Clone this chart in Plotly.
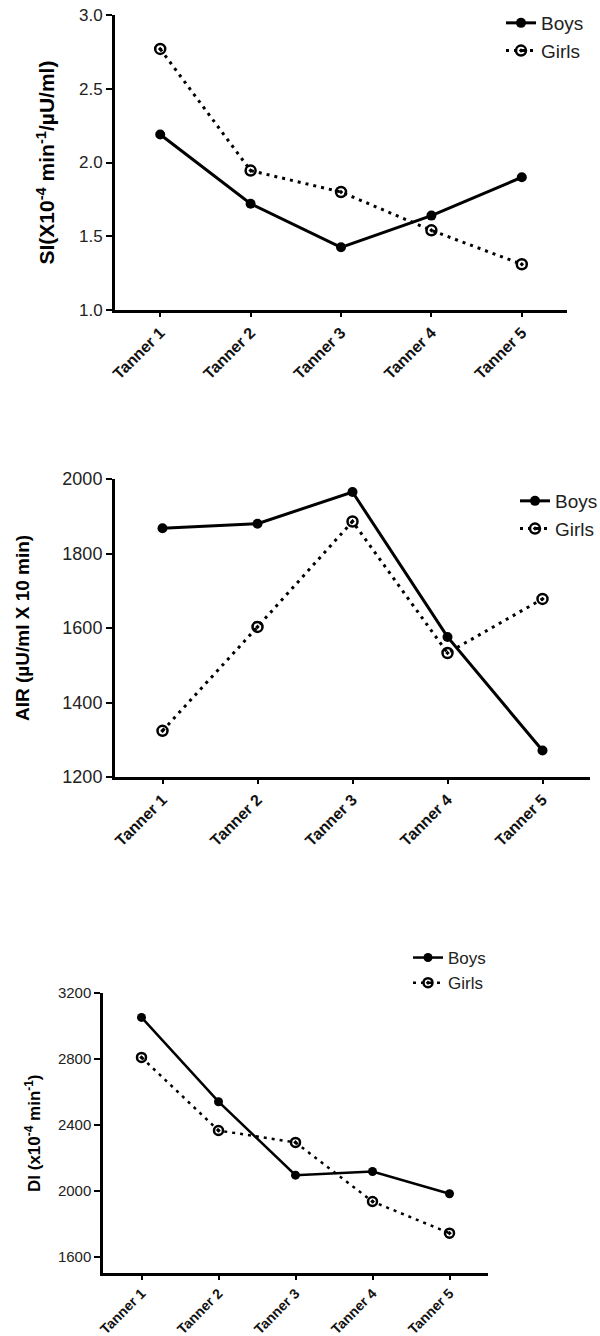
import plotly.graph_objects as go

W, H = 600, 1336

stages = ["Tanner 1", "Tanner 2", "Tanner 3", "Tanner 4", "Tanner 5"]

si_boys = [2.19, 1.72, 1.425, 1.64, 1.90]
si_girls = [2.77, 1.945, 1.80, 1.54, 1.31]

air_boys = [1868, 1880, 1965, 1576, 1271]
air_girls = [1324, 1603, 1886, 1533, 1678]

di_boys = [3052, 2540, 2094, 2116, 1981]
di_girls = [2809, 2365, 2293, 1934, 1742]

FONT = "Arial, Liberation Sans, sans-serif"

def px_x(a, b):
    return [a / W, b / W]

def px_y(top, bottom):
    return [1 - bottom / H, 1 - top / H]

panels = [
    dict(boys=si_boys, girls=si_girls, xd=px_x(115, 567), yd=px_y(15, 310),
         yr=[1.0, 3.0], dtick=0.5, fmt=".1f", lw=3, tickfs=17, xfs=16,
         title="SI(X10<sup>-4</sup> min<sup>-1</sup>/µU/ml)", tfs=21, tx=45,
         leg=dict(x=501, y=4), legfs=19, ms=10, lnw=3),
    dict(boys=air_boys, girls=air_girls, xd=px_x(115, 590), yd=px_y(479, 777),
         yr=[1200, 2000], dtick=200, fmt="d", lw=3, tickfs=18, xfs=16,
         title="AIR (µU/ml X 10 min)", tfs=19, tx=22,
         leg=dict(x=515, y=482), legfs=19, ms=10, lnw=3),
    dict(boys=di_boys, girls=di_girls, xd=px_x(103, 488), yd=px_y(993, 1273),
         yr=[1500, 3200], dtick=400, fmt="d", lw=2.5, tickfs=15, xfs=14,
         title="DI (x10<sup>-4</sup> min<sup>-1</sup>)", tfs=17, tx=33,
         leg=dict(x=408, y=940), legfs=17, ms=9, lnw=2.5),
]

fig = go.Figure()
annotations = []
layout = {}

for i, p in enumerate(panels):
    n = "" if i == 0 else str(i + 1)
    xa, ya = "x" + n, "y" + n
    lg = "legend" + n
    fig.add_trace(go.Scatter(
        x=stages, y=p["boys"], name="Boys", mode="lines+markers",
        line=dict(color="black", width=p["lnw"]),
        marker=dict(symbol="circle", size=p["ms"], color="black"),
        xaxis=xa, yaxis=ya, legend=lg))
    fig.add_trace(go.Scatter(
        x=stages, y=p["girls"], name="Girls", mode="lines+markers",
        line=dict(color="black", width=p["lnw"], dash="3px,5px"),
        marker=dict(symbol="circle-open-dot", size=p["ms"], color="black",
                    line=dict(width=2.5, color="black")),
        xaxis=xa, yaxis=ya, legend=lg))

    layout["xaxis" + n] = dict(
        domain=p["xd"], anchor=ya, type="category", range=[-0.5, 4.5],
        showline=True, linewidth=p["lw"], linecolor="black", mirror=False,
        ticks="outside", ticklen=4, tickwidth=2, tickcolor="black",
        tickangle=-45, showgrid=False, zeroline=False, automargin=False,
        tickfont=dict(family=FONT, size=p["xfs"], color="#111", weight="bold"))
    layout["yaxis" + n] = dict(
        domain=p["yd"], anchor=xa, range=p["yr"], dtick=p["dtick"],
        tickformat=p["fmt"], showline=True, linewidth=p["lw"],
        linecolor="black", ticks="outside", ticklen=6, tickwidth=2,
        tickcolor="black", showgrid=False, zeroline=False, automargin=False,
        tickfont=dict(family=FONT, size=p["tickfs"], color="#222"))
    layout[lg] = dict(
        x=p["leg"]["x"] / W, y=1 - p["leg"]["y"] / H, xanchor="left",
        yanchor="top", bgcolor="rgba(0,0,0,0)", itemwidth=30,
        font=dict(family=FONT, size=p["legfs"], color="#222"),
        tracegroupgap=0)
    ymid = (p["yd"][0] + p["yd"][1]) / 2
    annotations.append(dict(
        text="<b>" + p["title"] + "</b>", x=p["tx"] / W, y=ymid,
        xref="paper", yref="paper", textangle=-90, showarrow=False,
        xanchor="center", yanchor="middle",
        font=dict(family=FONT, size=p["tfs"], color="black")))

fig.update_layout(
    width=W, height=H,
    margin=dict(l=0, r=0, t=0, b=0, autoexpand=False),
    paper_bgcolor="white", plot_bgcolor="white",
    showlegend=True, annotations=annotations, **layout)

fig.write_html(
    "out.html",
    config={"displayModeBar": False},
    post_script="document.body.style.margin='0';document.body.style.overflow='hidden';")
